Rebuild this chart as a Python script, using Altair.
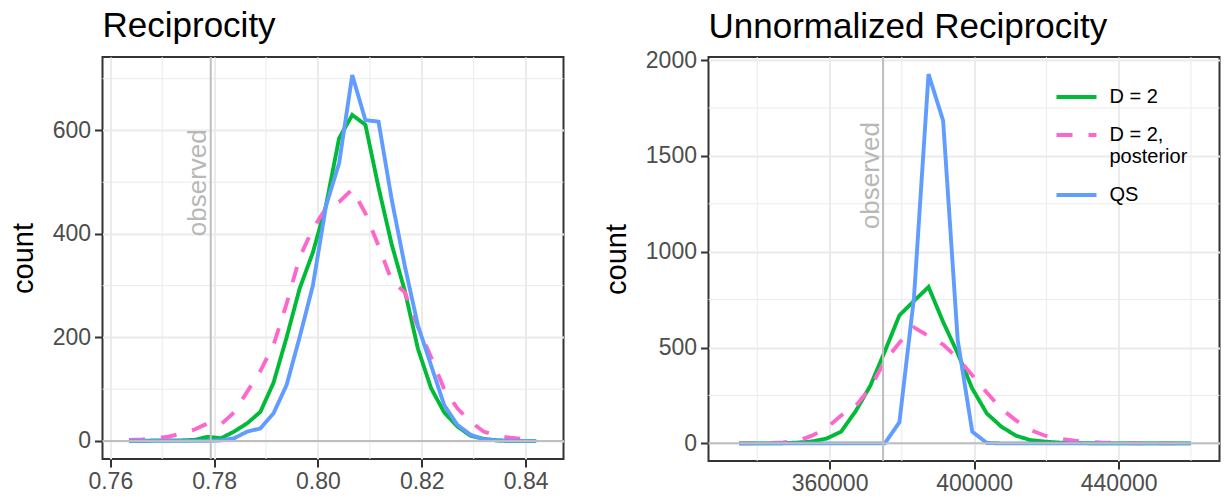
import altair as alt
import pandas as pd

FONT = "Liberation Sans"
series_names = ["D = 2", "D = 2, posterior", "QS"]
series_colors = ["#00BA38", "#FF66CC", "#619CFF"]
series_dash = [[1, 0], [16, 16], [1, 0]]

# ---- Reciprocity panel (frequency polygon, bin centres) ----
recip_x = [0.76360, 0.76613, 0.76866, 0.77119, 0.77372, 0.77625, 0.77878, 0.78131,
           0.78384, 0.78637, 0.78890, 0.79143, 0.79396, 0.79649, 0.79902, 0.80155,
           0.80408, 0.80661, 0.80914, 0.81167, 0.81420, 0.81673, 0.81926, 0.82179,
           0.82432, 0.82685, 0.82938, 0.83191, 0.83444, 0.83697, 0.83950, 0.84203]
recip_d2 = [0, 0, 1, 1, 1, 2, 8, 5, 18, 34, 56, 112, 200, 295, 364, 455,
            585, 630, 611, 490, 380, 290, 178, 102, 55, 28, 10, 4, 1, 0, 0, 0]
recip_post = [2, 3, 5, 8, 15, 22, 34, 32, 55, 95, 135, 185, 265, 355, 410, 450,
              462, 486, 440, 377, 310, 287, 220, 162, 100, 63, 37, 18, 10, 6, 4, 3]
recip_qs = [0, 0, 0, 0, 0, 0, 0, 1, 5, 18, 24, 53, 108, 201, 300, 454,
            537, 707, 620, 617, 467, 338, 223, 146, 69, 31, 12, 3, 1, 0, 0, 0]
recip_observed = 0.77935

# ---- Unnormalized reciprocity panel ----
unnorm_x = [334975, 339007, 343039, 347071, 351103, 355135, 359167, 363199,
            367231, 371263, 375295, 379327, 383359, 387391, 391423, 395455,
            399487, 403519, 407551, 411583, 415615, 419647, 423679, 427711,
            431743, 435775, 439807, 443839, 447871, 451903, 455935, 459967]
unnorm_d2 = [0, 0, 0, 1, 4, 10, 25, 61, 168, 300, 480, 668, 743, 816, 634, 470,
             286, 156, 87, 40, 17, 9, 4, 2, 1, 0, 0, 0, 0, 0, 0, 0]
unnorm_post = [0, 1, 2, 5, 12, 40, 80, 145, 195, 290, 430, 525, 605, 560, 515, 445,
               355, 265, 180, 120, 70, 40, 25, 14, 7, 4, 2, 1, 1, 0, 0, 0]
unnorm_qs = [0, 0, 0, 0, 0, 0, 0, 0, 0, 0, 0, 110, 760, 1927, 1684, 540,
             61, 2, 0, 0, 0, 0, 0, 0, 0, 0, 0, 0, 0, 0, 0, 0]
unnorm_observed = 374810

# axis tick values
recip_xmajor = [0.76, 0.78, 0.80, 0.82, 0.84]
recip_xminor = [0.77, 0.79, 0.81, 0.83]
recip_ymajor = [0, 200, 400, 600]
recip_yminor = [100, 300, 500, 700]
unnorm_xmajor = [360000, 400000, 440000]
unnorm_xminor = [340000, 380000, 420000, 460000]
unnorm_ymajor = [0, 500, 1000, 1500, 2000]
unnorm_yminor = [250, 750, 1250, 1750]


def long_df(x, ys):
    rows = []
    for name, vals in zip(series_names, ys):
        for xi, v in zip(x, vals):
            rows.append({"x": xi, "count": v, "model": name})
    return pd.DataFrame(rows)


def panel(df, title, xdom, ydom, xmaj, xmin, ymaj, ymin, xfmt, obs, obs_y,
          w, h, show_legend, title_offset):
    xs = alt.Scale(domain=xdom, nice=False, zero=False)
    ys = alt.Scale(domain=ydom, nice=False, zero=False)
    xa = alt.Axis(values=xmaj, format=xfmt, grid=True)
    ya = alt.Axis(values=ymaj, format="d", grid=True)
    grid = "#EBEBEB"

    def X(f):
        return alt.X(f, scale=xs, axis=xa, title=None)

    def Y(f):
        return alt.Y(f, scale=ys, axis=ya, title="count")

    minor_x = alt.Chart(pd.DataFrame({"v": xmin})).mark_rule(
        color=grid, strokeWidth=1).encode(x=X("v:Q"))
    minor_y = alt.Chart(pd.DataFrame({"v": ymin})).mark_rule(
        color=grid, strokeWidth=1).encode(y=Y("v:Q"))

    if show_legend:
        leg = alt.Legend(
            title=None, orient="none", legendX=346, legendY=18,
            symbolType="stroke", symbolSize=1600, symbolStrokeWidth=4,
            labelFont=FONT, labelFontSize=20, labelColor="black",
            labelOffset=11, rowPadding=6, padding=0, fillColor=None,
            strokeColor=None, labelLimit=300,
            labelExpr="datum.label == 'D = 2, posterior' ? ['D = 2,', 'posterior'] : datum.label",
        )
    else:
        leg = None

    lines = alt.Chart(df).mark_line(strokeWidth=3.9).encode(
        x=X("x:Q"),
        y=Y("count:Q"),
        color=alt.Color("model:N", scale=alt.Scale(domain=series_names, range=series_colors),
                        legend=leg),
        strokeDash=alt.StrokeDash("model:N", scale=alt.Scale(domain=series_names, range=series_dash),
                                  legend=leg),
    )

    obs_df = pd.DataFrame({"x": [obs], "y": [obs_y], "zero": [0], "label": ["observed"]})
    vline = alt.Chart(obs_df).mark_rule(color="#BEBEBE", strokeWidth=2).encode(x=X("x:Q"))
    hline = alt.Chart(obs_df).mark_rule(color="#BEBEBE", strokeWidth=2).encode(y=Y("zero:Q"))
    txt = alt.Chart(obs_df).mark_text(
        angle=270, align="center", baseline="alphabetic", dy=-4.5,
        font=FONT, fontSize=26, color="#B8B8B8").encode(
        x=X("x:Q"), y=Y("y:Q"), text="label:N")

    return alt.layer(minor_x, minor_y, lines, vline, hline, txt).properties(
        width=w, height=h,
        title=alt.TitleParams(title, anchor="start", frame="group", font=FONT,
                              fontSize=35, fontWeight="normal", color="black",
                              offset=title_offset),
    )


left = panel(long_df(recip_x, [recip_d2, recip_post, recip_qs]), "Reciprocity",
             [0.7585, 0.8473], [-35, 742], recip_xmajor, recip_xminor,
             recip_ymajor, recip_yminor, ".2f", recip_observed, 499, 461, 402, False, 12)
right = panel(long_df(unnorm_x, [unnorm_d2, unnorm_post, unnorm_qs]), "Unnormalized Reciprocity",
              [326505, 467903], [-92, 2016], unnorm_xmajor, unnorm_xminor,
              unnorm_ymajor, unnorm_yminor, "d", unnorm_observed, 1397, 511, 404, True, 4)

chart = alt.hconcat(left, right, spacing=35).resolve_scale(
    x="independent", y="independent", color="independent", strokeDash="independent"
).resolve_legend(color="independent", strokeDash="independent").properties(
    padding={"left": 7.5, "top": 8, "right": 3, "bottom": 5}
).configure_view(stroke="#333333", strokeWidth=2).configure_axis(
    labelFont=FONT, labelFontSize=23, labelColor="#4D4D4D",
    tickColor="#333333", tickWidth=2, tickSize=8, labelPadding=4,
    domain=False, gridColor="#EBEBEB", gridWidth=2,
    titleFont=FONT, titleFontSize=29, titleFontWeight="normal", titleColor="black",
    titlePadding=14,
).configure_axisX(labelPadding=3)

chart.save("out.html", embed_options={"renderer": "svg", "actions": False})
